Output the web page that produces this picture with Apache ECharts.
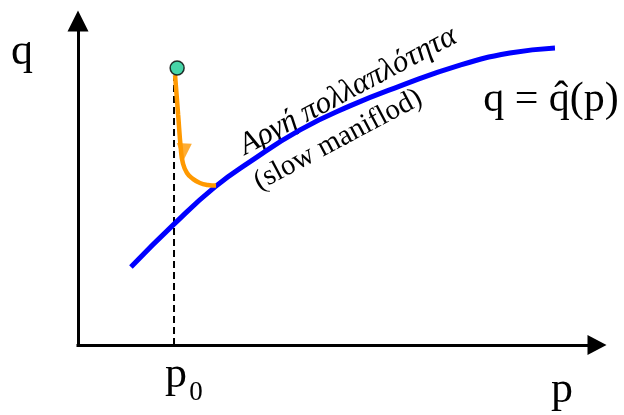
<!DOCTYPE html>
<html>
<head>
<meta charset="utf-8">
<script src="https://cdn.jsdelivr.net/npm/echarts@6/dist/echarts.min.js"></script>
<style>
  html, body { margin: 0; padding: 0; background: #fff; }
  #chart { width: 624px; height: 415px; }
</style>
</head>
<body>
<div id="chart"></div>
<script>
// Slow manifold q = q̂(p)
const manifoldP = [1.02, 1.85, 2.64, 3.31, 4.28, 5.24, 6.20, 7.36, 8.32, 9.19];
const manifoldQ = [2.41, 3.73, 4.88, 5.65, 6.64, 7.38, 7.99, 8.64, 9.01, 9.17];
// Fast trajectory from the initial state down onto the manifold
const trajP = [1.87, 1.93, 1.98, 2.02, 2.10, 2.22, 2.35, 2.50, 2.66];
const trajQ = [8.33, 7.10, 6.08, 5.62, 5.31, 5.12, 5.00, 4.94, 4.92];
// Initial state and the direction marker on the trajectory
const startP = [1.91];
const startQ = [8.55];
const arrowP = [2.04];
const arrowQ = [5.96];
// Guide line at p0
const p0 = 1.85;
const p0Top = 8.3;

const zip = (xs, ys) => xs.map((x, i) => [x, ys[i]]);

const SERIF = '"Liberation Serif", "Times New Roman", serif';
const ROT = 28 * Math.PI / 180;

const chart = echarts.init(document.getElementById('chart'), null, { renderer: 'canvas' });

const hiddenAxisParts = {
  axisTick: { show: false },
  axisLabel: { show: false },
  splitLine: { show: false }
};

chart.setOption({
  animation: false,
  backgroundColor: '#fff',
  grid: { left: 78, right: 27, top: 21, bottom: 70 },
  xAxis: Object.assign({
    type: 'value', min: 0, max: 10,
    axisLine: {
      show: true, onZero: false,
      symbol: ['none', 'triangle'], symbolSize: [20, 19],
      lineStyle: { color: '#000', width: 3, cap: 'square' }
    }
  }, hiddenAxisParts),
  yAxis: Object.assign({
    type: 'value', min: 0, max: 10,
    axisLine: {
      show: true, onZero: false,
      symbol: ['none', 'triangle'], symbolSize: [21, 21],
      lineStyle: { color: '#000', width: 3, cap: 'square' }
    }
  }, hiddenAxisParts),
  series: [
    {
      name: 'p0 guide', type: 'line', z: 1,
      data: [[p0, 0], [p0, p0Top]],
      symbol: 'none',
      lineStyle: { color: '#000', width: 2, type: [7, 4] }
    },
    {
      name: 'manifold', type: 'line', z: 2,
      data: zip(manifoldP, manifoldQ),
      smooth: 0.5, symbol: 'none',
      lineStyle: { color: '#0000ff', width: 5 }
    },
    {
      name: 'trajectory', type: 'line', z: 3,
      data: zip(trajP, trajQ),
      smooth: 0.5, symbol: 'none',
      lineStyle: { color: '#ff9900', width: 4.5 }
    },
    {
      name: 'direction', type: 'scatter', z: 4,
      data: zip(arrowP, arrowQ),
      symbol: 'triangle', symbolSize: [15, 17], symbolRotate: 177,
      itemStyle: { color: '#ff9900' }
    },
    {
      name: 'start', type: 'scatter', z: 5,
      data: zip(startP, startQ),
      symbol: 'circle', symbolSize: 14,
      itemStyle: { color: '#19c992', borderColor: '#000', borderWidth: 1.5 }
    }
  ],
  graphic: [
    { type: 'text', x: 22, y: 52, style: { text: 'q', font: '44px ' + SERIF, fill: '#000', align: 'center', verticalAlign: 'middle' } },
    { type: 'text', x: 562, y: 390, style: { text: 'p', font: '44px ' + SERIF, fill: '#000', align: 'center', verticalAlign: 'middle' } },
    { type: 'text', x: 176, y: 375, style: { text: 'p', font: '44px ' + SERIF, fill: '#000', align: 'center', verticalAlign: 'middle' } },
    { type: 'text', x: 196, y: 393, style: { text: '0', font: '27px ' + SERIF, fill: '#000', align: 'center', verticalAlign: 'middle' } },
    { type: 'text', x: 551, y: 100, style: { text: 'q = q\u0302(p)', font: '42px ' + SERIF, fill: '#000', align: 'center', verticalAlign: 'middle' } },
    { type: 'text', x: 348, y: 91, rotation: ROT, style: { text: 'Αργή πολλαπλότητα', font: 'italic 31px ' + SERIF, fill: '#000', align: 'center', verticalAlign: 'middle' } },
    { type: 'text', x: 338, y: 140, rotation: ROT, style: { text: '(slow maniflod)', font: '29px ' + SERIF, fill: '#000', align: 'center', verticalAlign: 'middle' } }
  ]
});
</script>
</body>
</html>
